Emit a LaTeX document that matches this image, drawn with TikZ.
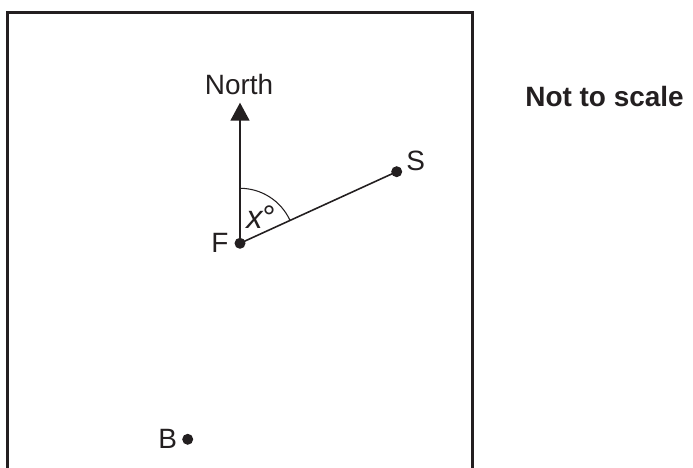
\documentclass[tikz,border=0pt]{standalone}
\usepackage{fontspec}
\setmainfont{Liberation Sans}
\usetikzlibrary{arrows.meta,angles}
\definecolor{Tinta}{HTML}{231F20}

\begin{document}
\begin{tikzpicture}[font=\fontsize{15.9}{19}\selectfont,
  punto/.style={circle,fill=Tinta,inner sep=0pt,minimum size=2.2mm},
  rotulo/.style={inner sep=0pt,anchor=base west,text=Tinta}]
  \useasboundingbox (0,0) rectangle (13.86,9.36);

  % Frame, open at the bottom
  \draw[Tinta,line width=1.4pt]
    (0.15,0) -- (0.15,9.106) -- (9.454,9.106) -- (9.454,0);

  % Points
  \node[punto] (F) at (4.80,4.494) {};
  \node[punto] (S) at (7.934,5.926) {};
  \node[punto] (B) at (3.754,0.574) {};
  \coordinate (Ntip) at (4.80,7.306);

  % Bearing lines and angle
  \draw[Tinta,line width=0.9pt,-{Triangle[length=3.6mm,width=3.8mm]}] (F.center) -- (Ntip);
  \draw[Tinta,line width=0.9pt] (F.center) -- (S.center);
  \pic[draw=Tinta,line width=0.6pt,angle radius=1.1cm] {angle=S--F--Ntip};

  % Labels
  \node[rotulo,anchor=base] (north) at (4.78,7.46) {North};
  \node[rotulo] (lblF) at (4.22,4.30) {F};
  \node[rotulo] (lblS) at (8.12,5.94) {S};
  \node[rotulo] (lblB) at (3.16,0.38) {B};
  \node[rotulo,font=\fontsize{18.5}{22}\selectfont] (ang) at (4.92,4.78) {\itshape x\upshape°};
  \node[rotulo,font=\fontsize{15.9}{19}\selectfont\bfseries] (escala) at (10.50,7.22) {Not to scale};
\end{tikzpicture}
\end{document}
